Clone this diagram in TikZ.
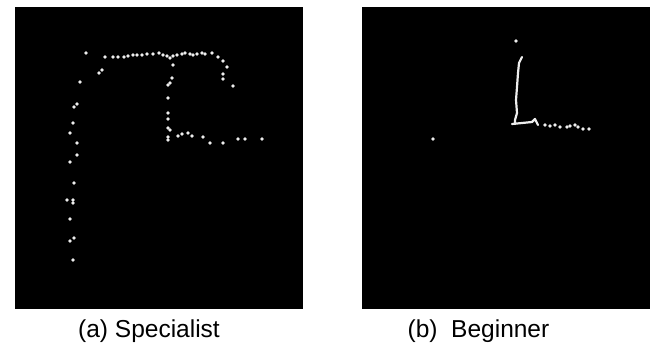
\documentclass[tikz,border=0pt]{standalone}
\usepackage{fontspec}
\setmainfont{Liberation Sans}
\begin{document}
\begin{tikzpicture}[x=1pt,y=-1pt,
  panel/.style={fill=black,draw=none},
  pt/.style={fill=white!93!black,draw=none},
  trace/.style={draw=white!93!black,line width=2.2pt,line cap=round,line join=round},
  captext/.style={font=\fontsize{24.5}{29}\selectfont,anchor=base,inner sep=0pt}]
\useasboundingbox (0,0) rectangle (658,343);
% panels
\fill[panel] (15,7) rectangle (303,309);
\fill[panel] (362,7) rectangle (650,309);
% (a) specialist dots
\foreach \x/\y in {86/53,105/57,113/57,118/57,124/57,128/56,133/55,137/55,142/55,147/54,153/54,
  159/53,163/55,167/56,170/58,173/56,177/55,182/54,185/53,190/54,193/55,197/54,202/53,205/54,
  212/53,218/57,223/61,227/67,223/74,223/79,233/86,
  99/73,102/70,80/82,
  74/107,77/104,73/123,70/133,77/143,77/155,70/162,74/183,67/200,73/200,73/203,70/219,70/241,74/238,73/260,
  173/65,172/78,170/83,168/85,168/98,168/113,168/119,168/128,170/130,168/137,168/140,
  178/136,182/134,188/133,192/136,203/137,210/143,223/143,238/139,245/139,262/139}
  \fill[pt] (\x,\y) circle (1.9);
% (b) beginner
\fill[pt] (516,41) circle (1.9);
\fill[pt] (433,139) circle (1.9);
\draw[trace] (522,57) -- (519,63) -- (518,73) -- (517,87) -- (516,100) -- (517,113) -- (515,120) -- (515,124);
\draw[trace] (512,124) -- (532,122) -- (535,119) -- (538,125);
\foreach \x/\y in {545/125,550/126,555/125,560/127,567/127,570/126,575/125,578/127,583/129,589/129}
  \fill[pt] (\x,\y) circle (1.9);
% captions
\node[captext] (capa) at (149,337) {(a) Specialist};
\node[captext] (capb) at (478.5,337) {(b)\ \ Beginner};
\end{tikzpicture}
\end{document}
